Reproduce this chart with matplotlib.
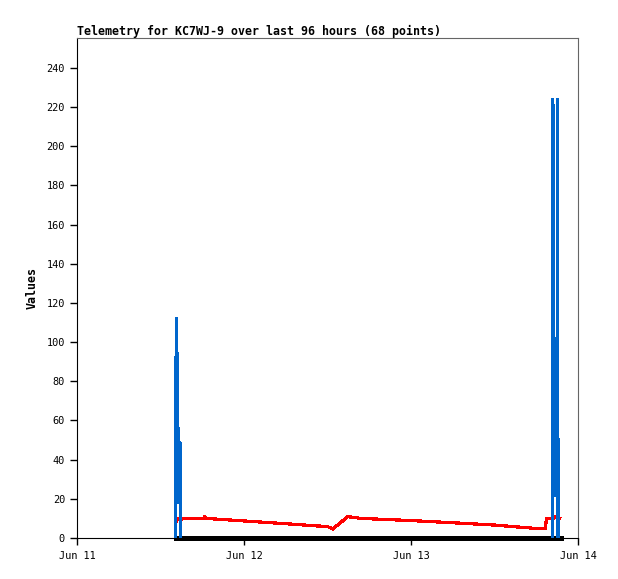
"""
plot.py - telemetry chart for KC7WJ-9 (last 96 hours)
"""
import matplotlib
matplotlib.use("Agg")
import matplotlib.pyplot as plt

# time axis in days since Jun 11 00:00
day_labels = ["Jun 11", "Jun 12", "Jun 13", "Jun 14"]
day_ticks = [0, 1, 2, 3]

# blue channel (spiky), two bursts
blue_t1 = [0.5875, 0.5875, 0.593, 0.596, 0.599, 0.607, 0.608, 0.615, 0.616, 0.617]
blue_v1 = [0, 56, 112, 93.5, 56, 56, 18, 48.5, 24.5, 0]
blue_t2 = [2.849, 2.8492, 2.851, 2.853, 2.855, 2.857, 2.859, 2.8785, 2.879, 2.8795]
blue_v2 = [0, 224, 202, 157, 112, 67, 22, 22, 224, 0]

# red channel
red_t = [0.592, 0.60, 0.76, 0.762, 0.77, 1.0, 1.25, 1.5, 1.53, 1.62, 1.7,
         2.0, 2.25, 2.5, 2.76, 2.805, 2.81, 2.85, 2.855, 2.89]
red_v = [8.5, 9.7, 10.0, 10.9, 10.0, 8.7, 7.3, 5.8, 4.6, 10.9, 10.0,
         8.9, 7.8, 6.6, 4.8, 4.8, 9.9, 9.9, 11.0, 10.0]

# black channel (flat at zero)
black_t = [0.59, 1.0, 2.0, 2.90]
black_v = [0, 0, 0, 0]

fig = plt.figure(figsize=(6.18, 5.79), dpi=100)
ax = fig.add_axes([0.1254, 0.0708, 0.8099, 0.8636])

ax.plot(black_t, black_v, color="black", lw=2.4, antialiased=False,
        clip_on=False, zorder=2)
ax.plot(red_t, red_v, color="#ff0000", lw=1.6, antialiased=False, zorder=3)
for bt, bv in [(blue_t1, blue_v1), (blue_t2, blue_v2)]:
    ax.plot(bt, bv, color="#0066cc", lw=1.6, antialiased=False, zorder=4)

ax.set_xlim(0, 3)
ax.set_ylim(0, 255.3)
ax.set_xticks(day_ticks)
ax.set_xticklabels(day_labels)
ax.set_yticks(range(0, 241, 20))

mono = "DejaVu Sans Mono"
for lab in ax.get_xticklabels() + ax.get_yticklabels():
    lab.set_family(mono)
    lab.set_fontsize(7.4)
ax.tick_params(direction="out", length=5, width=1, color="black", pad=4)

for side in ["top", "right"]:
    ax.spines[side].set_color("#666666")
for side in ["left", "bottom"]:
    ax.spines[side].set_color("black")

ax.set_title("Telemetry for KC7WJ-9 over last 96 hours (68 points)",
             loc="left", family=mono, fontweight="bold", fontsize=8.4, pad=2)
ax.set_ylabel("Values", family=mono, fontweight="bold", fontsize=8.4, labelpad=6)

fig.savefig("out.png", dpi=100)
